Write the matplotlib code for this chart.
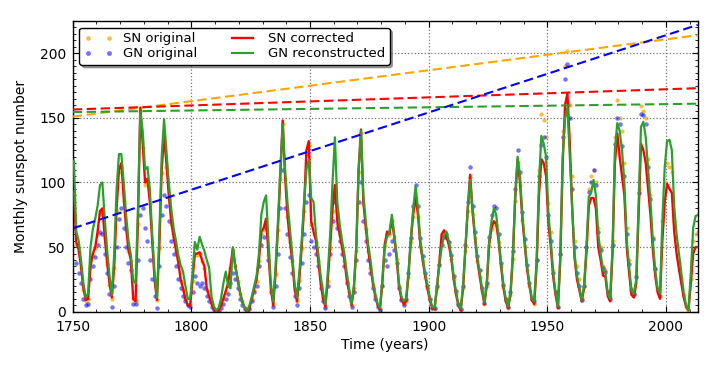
import numpy as np
import matplotlib
matplotlib.use("Agg")
import matplotlib.pyplot as plt
from matplotlib.ticker import MultipleLocator

plt.rcParams['font.family'] = ['DejaVu Sans']

# ---------------- data (yearly values) ----------------
years = list(range(1750, 2014))

gn_reconstructed = [
    117, 62, 55, 40, 22, 11, 14, 50, 64, 72,
    82, 98, 100, 72, 48, 28, 13, 45, 95, 122,
    122, 100, 75, 55, 44, 24, 22, 80, 155, 140,
    110, 112, 95, 60, 30, 11, 60, 120, 149, 125,
    100, 80, 65, 55, 44, 36, 31, 20, 10, 10,
    30, 54, 48, 58, 52, 47, 40, 34, 12, 4,
    1, 3, 10, 22, 31, 20, 18, 50, 35, 26,
    15, 7, 3, 1, 5, 12, 20, 28, 45, 75,
    85, 90, 55, 22, 8, 35, 70, 110, 145, 110,
    85, 65, 45, 22, 11, 30, 55, 85, 110, 118,
    88, 85, 60, 45, 28, 15, 6, 30, 60, 100,
    135, 85, 68, 55, 45, 30, 18, 6, 20, 49,
    110, 140, 90, 70, 52, 40, 24, 14, 6, 3,
    25, 50, 58, 62, 75, 60, 44, 22, 12, 8,
    10, 30, 57, 80, 97, 80, 55, 42, 30, 21,
    11, 4, 3, 20, 36, 50, 59, 62, 55, 44,
    28, 16, 6, 2, 20, 50, 80, 102, 80, 60,
    42, 31, 18, 7, 22, 55, 70, 80, 75, 57,
    38, 21, 10, 4, 15, 45, 90, 120, 105, 75,
    55, 35, 22, 10, 8, 40, 100, 136, 130, 120,
    75, 55, 30, 15, 4, 45, 120, 150, 158, 120,
    80, 45, 28, 19, 9, 20, 50, 89, 92, 102,
    90, 60, 45, 32, 30, 14, 10, 50, 125, 146,
    140, 125, 100, 55, 35, 16, 14, 25, 85, 143,
    147, 135, 110, 85, 55, 32, 18, 14, 70, 112,
    132, 133, 125, 81, 60, 45, 30, 15, 5, 1,
    30, 65, 74, 75,
]

sn_corrected = [
    93, 54, 48, 35, 18, 9, 10, 35, 45, 50,
    62, 78, 80, 58, 38, 22, 11, 35, 80, 110,
    115, 88, 65, 48, 40, 10, 8, 70, 158, 130,
    100, 103, 85, 55, 25, 9, 50, 110, 136, 115,
    90, 70, 58, 48, 38, 25, 18, 10, 5, 5,
    25, 45, 45, 46, 40, 35, 18, 12, 6, 2,
    0, 1, 5, 10, 16, 22, 35, 49, 36, 25,
    15, 8, 3, 0, 3, 10, 18, 25, 40, 62,
    65, 72, 45, 18, 5, 30, 65, 105, 148, 105,
    75, 55, 40, 18, 8, 25, 50, 80, 125, 132,
    70, 62, 55, 40, 22, 10, 4, 25, 50, 80,
    98, 70, 60, 50, 40, 25, 15, 5, 18, 48,
    110, 141, 85, 65, 48, 35, 22, 12, 5, 2,
    22, 52, 62, 60, 72, 58, 42, 20, 10, 6,
    8, 28, 55, 75, 90, 75, 52, 40, 28, 18,
    9, 3, 2, 18, 38, 60, 63, 58, 52, 42,
    26, 14, 5, 1, 18, 48, 80, 106, 78, 58,
    40, 28, 16, 6, 20, 52, 65, 70, 68, 55,
    36, 19, 8, 3, 13, 42, 88, 118, 100, 72,
    52, 33, 20, 9, 6, 35, 90, 118, 115, 105,
    68, 50, 27, 13, 3, 40, 115, 160, 169, 130,
    80, 42, 25, 17, 8, 18, 45, 82, 88, 88,
    80, 50, 40, 28, 27, 12, 8, 45, 115, 138,
    120, 105, 90, 50, 30, 13, 11, 22, 75, 130,
    125, 115, 95, 75, 48, 28, 15, 10, 55, 85,
    99, 95, 92, 62, 45, 33, 22, 11, 4, 1,
    22, 45, 50, 50,
]

sn_original = [
    90, 52, 46, 34, 17, 8, 10, 34, 44, 49,
    60, 76, 78, 57, 37, 21, 10, 34, 78, 108,
    112, 86, 63, 47, 39, 10, 8, 68, 155, 127,
    98, 100, 83, 54, 24, 9, 49, 107, 133, 112,
    88, 68, 56, 47, 37, 24, 17, 10, 5, 5,
    24, 44, 44, 45, 39, 34, 17, 12, 6, 2,
    0, 1, 5, 10, 15, 21, 34, 48, 35, 24,
    14, 8, 3, 0, 3, 10, 17, 24, 39, 60,
    63, 70, 44, 17, 5, 29, 63, 103, 145, 103,
    73, 54, 39, 17, 8, 24, 49, 78, 122, 129,
    68, 60, 54, 39, 21, 10, 4, 24, 49, 78,
    96, 68, 59, 49, 39, 24, 15, 5, 18, 47,
    108, 138, 83, 64, 47, 34, 21, 12, 5, 2,
    21, 51, 60, 59, 70, 57, 41, 20, 10, 6,
    8, 27, 54, 73, 88, 73, 51, 39, 27, 18,
    9, 3, 2, 18, 37, 59, 62, 57, 51, 41,
    25, 14, 5, 1, 18, 47, 78, 104, 76, 57,
    39, 27, 16, 6, 20, 51, 64, 69, 67, 54,
    35, 19, 8, 3, 13, 41, 86, 116, 98, 71,
    51, 32, 20, 9, 6, 40, 110, 153, 148, 135,
    84, 62, 32, 15, 4, 45, 140, 190, 202, 160,
    105, 55, 35, 25, 10, 20, 50, 95, 105, 110,
    100, 65, 50, 35, 32, 15, 11, 55, 135, 164,
    150, 140, 115, 65, 40, 18, 14, 28, 95, 159,
    155, 150, 118, 90, 58, 34, 18, 12, 70, 100,
    115, 112, 108, 70, 52, 38, 25, 13, 4, 1,
    25, 55, 60, 62,
]

gn_years = list(range(1750, 1996))
gn_original = [
    65, 38, 30, 22, 10, 5, 6, 25, 35, 42,
    52, 62, 60, 45, 30, 14, 4, 20, 50, 72,
    80, 65, 50, 38, 32, 6, 6, 40, 75, 80,
    65, 55, 40, 25, 12, 3, 35, 75, 90, 82,
    70, 55, 45, 35, 25, 18, 12, 8, 5, 4,
    15, 28, 22, 20, 22, 18, 12, 8, 4, 1,
    0, 0, 3, 6, 10, 14, 22, 30, 25, 18,
    10, 5, 2, 0, 2, 8, 15, 20, 35, 52,
    58, 65, 40, 15, 4, 20, 45, 80, 110, 80,
    60, 42, 30, 12, 5, 18, 38, 60, 85, 90,
    55, 50, 45, 35, 18, 8, 3, 20, 45, 70,
    85, 65, 55, 45, 35, 22, 12, 4, 15, 40,
    85, 100, 70, 55, 40, 30, 18, 10, 4, 1,
    20, 40, 35, 45, 55, 48, 38, 18, 9, 5,
    10, 30, 57, 82, 98, 82, 57, 43, 30, 20,
    10, 3, 3, 20, 36, 52, 58, 60, 54, 44,
    28, 16, 6, 2, 20, 52, 85, 112, 82, 62,
    43, 32, 18, 7, 22, 58, 75, 82, 80, 60,
    38, 21, 10, 4, 15, 47, 95, 125, 108, 77,
    56, 36, 22, 10, 8, 40, 105, 129, 135, 120,
    75, 55, 30, 15, 4, 45, 135, 180, 192, 150,
    95, 50, 30, 20, 9, 20, 50, 93, 100, 110,
    98, 62, 48, 34, 31, 15, 10, 52, 130, 150,
    145, 128, 105, 60, 37, 17, 14, 27, 92, 153,
    152, 145, 112, 87, 56, 33,
]

# linear trend lines: value at start and end of the time span
trend_years = [1750, 2013.4]
trend_sn_original = [151, 214]
trend_gn_original = [64.5, 222]
trend_sn_corrected = [156.5, 173]
trend_gn_reconstructed = [154.5, 161]

# ---------------- figure ----------------
W, H = 713, 366
fig = plt.figure(figsize=(W / 100, H / 100), dpi=100)
ax = fig.add_axes([72.7 / W, 54.3 / H, 625 / W, 290.7 / H])

t = np.array(years) + 0.5
tg = np.array(gn_years) + 0.5

ax.plot(t, sn_original, linestyle='none', marker='o', ms=3.0, mew=0,
        color='orange', alpha=0.75, label='SN original', zorder=2)
ax.plot(tg, gn_original, linestyle='none', marker='o', ms=3.2, mew=0,
        color='blue', alpha=0.55, label='GN original', zorder=2)
ax.plot(t, sn_corrected, color='red', lw=1.7, label='SN corrected', zorder=3)
ax.plot(t, gn_reconstructed, color='#2ca02c', lw=1.6, label='GN reconstructed', zorder=4)

dash = (4.5, 2.2)
ax.plot(trend_years, trend_sn_original, color='orange', lw=1.5, dashes=dash, zorder=5)
ax.plot(trend_years, trend_sn_corrected, color='red', lw=1.5, dashes=dash, zorder=5)
ax.plot(trend_years, trend_gn_reconstructed, color='#2ca02c', lw=1.5, dashes=dash, zorder=5)
ax.plot(trend_years, trend_gn_original, color='blue', lw=1.5, dashes=dash, zorder=5)

ax.set_xlim(1750, 2013.4)
ax.set_ylim(0, 225)
ax.xaxis.set_major_locator(MultipleLocator(50))
ax.xaxis.set_minor_locator(MultipleLocator(10))
ax.yaxis.set_major_locator(MultipleLocator(50))
ax.yaxis.set_minor_locator(MultipleLocator(5))
ax.tick_params(which='both', direction='in', top=True, right=True, labelsize=10, colors='black')
ax.tick_params(which='major', length=4.5, width=0.8)
ax.tick_params(which='minor', length=2.2, width=0.6)
ax.tick_params(axis='x', which='major', pad=6)
ax.tick_params(axis='y', which='major', pad=5)
ax.grid(True, which='major', linestyle=':', color='0.45', lw=0.9)
for s in ax.spines.values():
    s.set_linewidth(1.0)

ax.set_xlabel('Time (years)', fontsize=10, labelpad=3)
ax.set_ylabel('Monthly sunspot number', fontsize=10, labelpad=8)

leg = ax.legend(loc='upper left', ncol=2, fontsize=9.5, numpoints=2, markerscale=1.1,
                fancybox=True, shadow=True, framealpha=1, edgecolor='black',
                borderaxespad=0.5, handlelength=2.2, columnspacing=2.3,
                labelspacing=0.15, borderpad=0.35)
leg.get_frame().set_linewidth(1.0)

fig.savefig('out.png', dpi=100)
